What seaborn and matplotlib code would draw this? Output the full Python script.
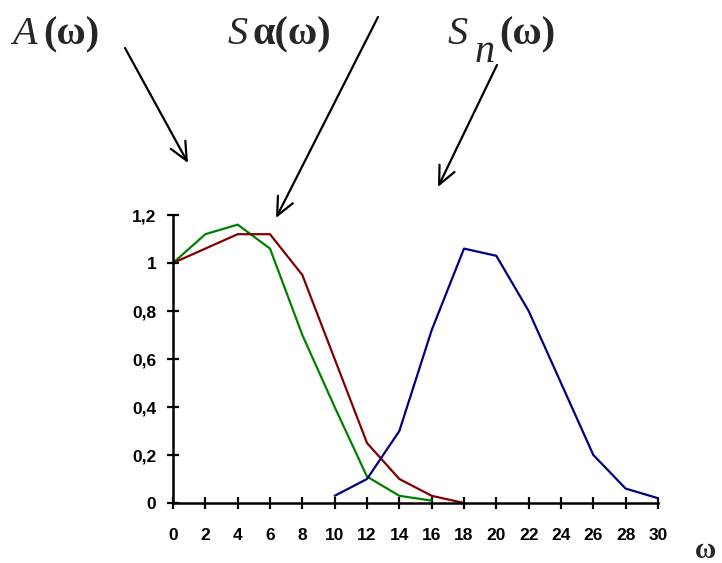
import numpy as np
import pandas as pd
import seaborn as sns
import matplotlib.pyplot as plt

# values
w_a = [0, 2, 4, 6, 8, 10, 12, 14, 16]
a_vals = [1.0, 1.12, 1.16, 1.06, 0.70, 0.40, 0.11, 0.03, 0.01]

w_sa = [0, 2, 4, 6, 8, 10, 12, 14, 16, 18]
sa_vals = [1.0, 1.06, 1.12, 1.12, 0.95, 0.60, 0.25, 0.10, 0.03, 0.0]

w_sn = [10, 12, 14, 16, 18, 20, 22, 24, 26, 28, 30]
sn_vals = [0.03, 0.10, 0.30, 0.72, 1.06, 1.03, 0.80, 0.50, 0.20, 0.06, 0.02]

x_ticks = list(range(0, 31, 2))
y_ticks = [0, 0.2, 0.4, 0.6, 0.8, 1.0, 1.2]
y_labels = ["0", "0,2", "0,4", "0,6", "0,8", "1", "1,2"]

sns.set_style("ticks")
plt.rcParams['font.family'] = ['Liberation Sans', 'DejaVu Sans']
plt.rcParams['mathtext.fontset'] = 'custom'
plt.rcParams['mathtext.it'] = 'Liberation Serif:italic'
plt.rcParams['mathtext.rm'] = 'Liberation Serif'

W, H = 722, 563
fig = plt.figure(figsize=(W / 100, H / 100), dpi=100)
ax = fig.add_axes([173 / W, 1 - 503 / H, (658 - 173) / W, (503 - 215) / H])

sns.lineplot(x=w_a, y=a_vals, color="#008000", lw=1.6, ax=ax)
sns.lineplot(x=w_sa, y=sa_vals, color="#800000", lw=1.6, ax=ax)
sns.lineplot(x=w_sn, y=sn_vals, color="#000080", lw=1.6, ax=ax)

ax.set_xlim(0, 30)
ax.set_ylim(0, 1.2)
ax.set_xticks(x_ticks)
ax.set_xticklabels([str(t) for t in x_ticks])
ax.set_yticks(y_ticks)
ax.set_yticklabels(y_labels)
for lab in ax.get_xticklabels() + ax.get_yticklabels():
    lab.set_fontweight("bold")
    lab.set_fontsize(12.5)
ax.tick_params(direction="inout", length=8, width=1.6, colors="black")
ax.tick_params(axis="x", pad=14)
ax.tick_params(axis="y", pad=8)
sns.despine(ax=ax)
for s in ["left", "bottom"]:
    ax.spines[s].set_linewidth(1.8)
    ax.spines[s].set_color("black")
ax.set_xlabel("")
ax.set_ylabel("")


def px(x, y):
    return x / W, 1 - y / H


serif = "Liberation Serif"
fs = 29
fig.text(*px(10, 35), r"$A$", fontsize=fs, family=serif, va="center", ha="left")
fig.text(*px(43, 35), "(ω)", fontsize=fs, family=serif, fontweight="bold",
         va="center", ha="left")

fig.text(*px(227, 35), r"$S$", fontsize=fs, family=serif, va="center", ha="left")
fig.text(*px(253, 35), "α(ω)", fontsize=fs, family=serif, fontweight="bold",
         va="center", ha="left")

fig.text(*px(447, 35), r"$S$", fontsize=fs, family=serif, va="center", ha="left")
fig.text(*px(474, 52), r"$n$", fontsize=fs, family=serif, va="center", ha="left")
fig.text(*px(499, 35), "(ω)", fontsize=fs, family=serif, fontweight="bold",
         va="center", ha="left")

fig.text(*px(706, 551), "ω", fontsize=21, family=serif, fontweight="bold",
         va="center", ha="center")

arrows = [((125, 48), (188, 163)), ((378, 17), (276, 218)), ((497, 65), (438, 187))]
for (x0, y0), (x1, y1) in arrows:
    ax.annotate("", xy=(x1, H - y1), xycoords="figure pixels",
                xytext=(x0, H - y0), textcoords="figure pixels",
                arrowprops=dict(arrowstyle="->,head_length=0.65,head_width=0.3",
                                lw=1.6, color="black", mutation_scale=20,
                                shrinkA=0, shrinkB=0))

fig.savefig("out.png", dpi=100)
